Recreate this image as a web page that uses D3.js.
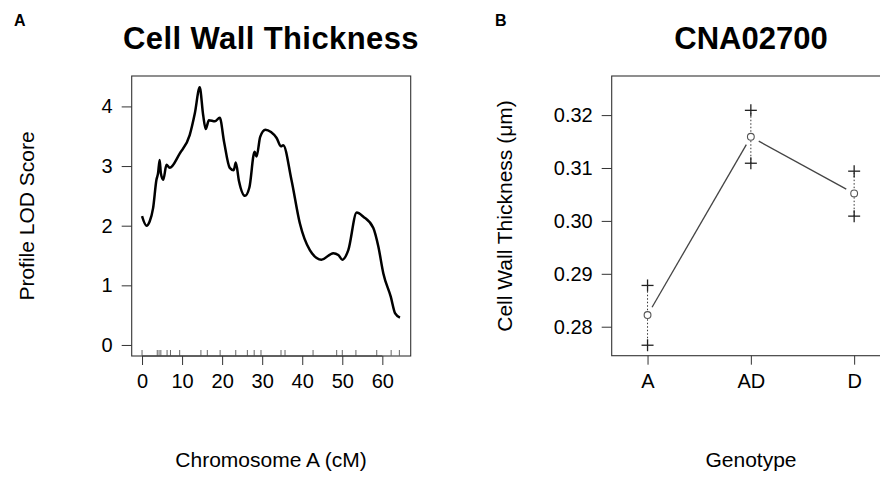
<!DOCTYPE html>
<html>
<head>
<meta charset="utf-8">
<script src="https://cdn.jsdelivr.net/npm/d3@7"></script>
<style>
  body { margin: 0; background: #fff; }
  text { font-family: "Liberation Sans", Arial, sans-serif; fill: #000; }
</style>
</head>
<body>
<div id="chart"></div>
<script>
// panel A: profile LOD along chromosome A
var profileCM = [0, 1.1, 1.9, 2.75, 3.6, 4.0, 4.4, 4.7, 5.3, 6.1, 6.9, 9.4, 11.9, 13.2, 14.4, 15.25, 15.9, 16.7, 18.2, 19.4,
  20.5, 21.9, 22.9, 23.4, 24.2, 25.7, 26.8, 28.1, 28.6, 29.5, 30.8, 32.2, 33.6, 34.7, 35.25, 37.3, 39.4, 41.9, 44.8,
  47.75, 49, 50, 51.5, 53.6, 55.25, 57.75, 59, 60.25, 62.1, 63.2, 64.4];
var profileLOD = [2.16, 2.00, 2.07, 2.29, 2.77, 2.88, 3.10, 2.88, 2.77, 3.02, 2.97, 3.21, 3.52, 3.89, 4.32, 3.86, 3.62, 3.77, 3.75, 3.81,
  3.40, 2.97, 2.93, 3.06, 2.75, 2.50, 2.64, 3.24, 3.16, 3.49, 3.61, 3.57, 3.47, 3.33, 3.35, 2.77, 2.04, 1.59, 1.43,
  1.54, 1.51, 1.43, 1.59, 2.22, 2.15, 1.96, 1.65, 1.20, 0.81, 0.53, 0.46];
var markerCM = [0, 3.8, 4.25, 4.7, 6.25, 7.1, 9.4, 14.7, 16.3, 19.5, 23.4, 26.3, 28.0, 29.7, 34.7, 35.7, 42.7, 48.6, 50.0, 53.4, 58.6, 62.2, 64.25];
var xTicksA = [0, 10, 20, 30, 40, 50, 60];
var yTicksA = [0, 1, 2, 3, 4];

// panel B: effect plot
var genotypes = ["A", "AD", "D"];
var meanB = [0.2822, 0.3159, 0.3052];
var upperB = [0.2878, 0.3209, 0.3094];
var lowerB = [0.2765, 0.3109, 0.3009];
var yTicksB = [0.28, 0.29, 0.30, 0.31, 0.32];

var W = 880, H = 477;
var svg = d3.select("#chart").append("svg").attr("width", W).attr("height", H);
var boxColor = "#333";

// ---- panel A ----
var ax = {left: 131.7, right: 410.7, top: 76, bottom: 356};
var xA = d3.scaleLinear().domain([-2.58, 67.08]).range([ax.left, ax.right]);
var yA = d3.scaleLinear().domain([-0.185, 4.51]).range([ax.bottom, ax.top]);

var gA = svg.append("g");
gA.append("rect")
  .attr("x", ax.left).attr("y", ax.top)
  .attr("width", ax.right - ax.left).attr("height", ax.bottom - ax.top)
  .attr("fill", "none").attr("stroke", boxColor).attr("stroke-width", 1.1);

gA.selectAll("line.rug").data(markerCM).enter().append("line")
  .attr("class", "rug")
  .attr("x1", function(d) { return xA(d); }).attr("x2", function(d) { return xA(d); })
  .attr("y1", ax.bottom - 6).attr("y2", ax.bottom)
  .attr("stroke", "#666").attr("stroke-width", 1);

var profile = profileCM.map(function(d, i) { return [d, profileLOD[i]]; });
gA.append("path").datum(profile)
  .attr("d", d3.line().x(function(d) { return xA(d[0]); }).y(function(d) { return yA(d[1]); }).curve(d3.curveMonotoneX))
  .attr("fill", "none").attr("stroke", "#000").attr("stroke-width", 2.5).attr("stroke-linejoin", "round");

var axA = d3.axisBottom(xA).tickValues(xTicksA).tickSize(9).tickPadding(5).tickFormat(d3.format("d"));
gA.append("g").attr("transform", "translate(0," + ax.bottom + ")").call(axA)
  .call(function(g) { g.select(".domain").attr("d", "M" + xA(0) + ",0H" + xA(60)).attr("stroke", boxColor); })
  .call(function(g) { g.selectAll(".tick line").attr("stroke", boxColor); g.selectAll("text").attr("font-size", 20).attr("font-family", null).attr("dy", "0.9em"); });
var ayA = d3.axisLeft(yA).tickValues(yTicksA).tickSize(10).tickPadding(9).tickFormat(d3.format("d"));
gA.append("g").attr("transform", "translate(" + ax.left + ",0)").call(ayA)
  .call(function(g) { g.select(".domain").remove(); })
  .call(function(g) { g.selectAll(".tick line").attr("stroke", boxColor); g.selectAll("text").attr("font-size", 20).attr("font-family", null); });

gA.append("text").attr("x", 271).attr("y", 49).attr("text-anchor", "middle")
  .attr("font-size", 31).attr("font-weight", "bold").attr("letter-spacing", 0.4).text("Cell Wall Thickness");
gA.append("text").attr("x", 14).attr("y", 25.5).attr("font-size", 16).attr("font-weight", "bold").text("A");
gA.append("text").attr("transform", "translate(33.5,216) rotate(-90)").attr("text-anchor", "middle")
  .attr("font-size", 21).text("Profile LOD Score");
gA.append("text").attr("x", 271).attr("y", 467).attr("text-anchor", "middle")
  .attr("font-size", 21).text("Chromosome A (cM)");

// ---- panel B ----
var bx = {left: 611.7, right: 890, top: 76, bottom: 355.7};
var xB = d3.scalePoint().domain(genotypes).range([bx.left, bx.right]).padding(0.347);
var yB = d3.scaleLinear().domain([0.27452, 0.32739]).range([bx.bottom, bx.top]);

var gB = svg.append("g");
gB.append("rect")
  .attr("x", bx.left).attr("y", bx.top)
  .attr("width", bx.right - bx.left).attr("height", bx.bottom - bx.top)
  .attr("fill", "none").attr("stroke", boxColor).attr("stroke-width", 1.1);

var pts = genotypes.map(function(g, i) { return {g: g, m: meanB[i], lo: lowerB[i], hi: upperB[i]}; });

// connecting line with gaps around the points (type "b")
var gap = 9;
for (var i = 0; i < pts.length - 1; i++) {
  var x0 = xB(pts[i].g), y0 = yB(pts[i].m), x1 = xB(pts[i + 1].g), y1 = yB(pts[i + 1].m);
  var len = Math.hypot(x1 - x0, y1 - y0), ux = (x1 - x0) / len, uy = (y1 - y0) / len;
  gB.append("line")
    .attr("x1", x0 + ux * gap).attr("y1", y0 + uy * gap)
    .attr("x2", x1 - ux * gap).attr("y2", y1 - uy * gap)
    .attr("stroke", "#444").attr("stroke-width", 1.3);
}

gB.selectAll("line.err").data(pts).enter().append("line")
  .attr("class", "err")
  .attr("x1", function(d) { return xB(d.g); }).attr("x2", function(d) { return xB(d.g); })
  .attr("y1", function(d) { return yB(d.lo); }).attr("y2", function(d) { return yB(d.hi); })
  .attr("stroke", "#333").attr("stroke-width", 1).attr("stroke-dasharray", "1.5,2");

gB.selectAll("circle.mean").data(pts).enter().append("circle")
  .attr("class", "mean")
  .attr("cx", function(d) { return xB(d.g); }).attr("cy", function(d) { return yB(d.m); })
  .attr("r", 3.4).attr("fill", "#fff").attr("stroke", "#555").attr("stroke-width", 1.1);

var ends = [];
pts.forEach(function(d) { ends.push({g: d.g, v: d.lo}); ends.push({g: d.g, v: d.hi}); });
var plus = gB.selectAll("g.plus").data(ends).enter().append("g").attr("class", "plus")
  .attr("transform", function(d) { return "translate(" + xB(d.g) + "," + yB(d.v) + ")"; });
plus.append("line").attr("x1", -6).attr("x2", 6).attr("y1", 0).attr("y2", 0).attr("stroke", "#222").attr("stroke-width", 1.3);
plus.append("line").attr("x1", 0).attr("x2", 0).attr("y1", -6).attr("y2", 6).attr("stroke", "#222").attr("stroke-width", 1.3);

var axB = d3.axisBottom(xB).tickSize(9).tickPadding(5);
gB.append("g").attr("transform", "translate(0," + bx.bottom + ")").call(axB)
  .call(function(g) { g.select(".domain").remove(); })
  .call(function(g) { g.selectAll(".tick line").attr("stroke", boxColor); g.selectAll("text").attr("font-size", 20).attr("font-family", null).attr("dy", "0.9em"); });
var ayB = d3.axisLeft(yB).tickValues(yTicksB).tickSize(10).tickPadding(9).tickFormat(d3.format(".2f"));
gB.append("g").attr("transform", "translate(" + bx.left + ",0)").call(ayB)
  .call(function(g) { g.select(".domain").remove(); })
  .call(function(g) { g.selectAll(".tick line").attr("stroke", boxColor); g.selectAll("text").attr("font-size", 20).attr("font-family", null); });

gB.append("text").attr("x", 751).attr("y", 49).attr("text-anchor", "middle")
  .attr("font-size", 31).attr("font-weight", "bold").text("CNA02700");
gB.append("text").attr("x", 495).attr("y", 25.5).attr("font-size", 16).attr("font-weight", "bold").text("B");
gB.append("text").attr("transform", "translate(512,216) rotate(-90)").attr("text-anchor", "middle")
  .attr("font-size", 21).text("Cell Wall Thickness (μm)");
gB.append("text").attr("x", 751).attr("y", 467).attr("text-anchor", "middle")
  .attr("font-size", 21).text("Genotype");
</script>
</body>
</html>
